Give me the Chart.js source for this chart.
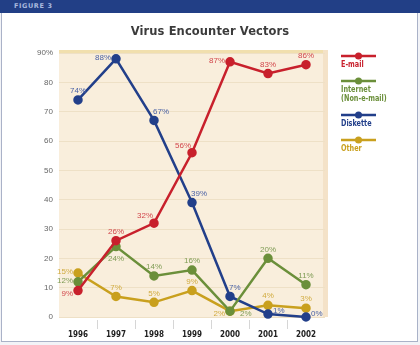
<!DOCTYPE html>
<html>
<head>
<meta charset="utf-8">
<script src="https://cdn.jsdelivr.net/npm/chart.js@4.4.1/dist/chart.umd.min.js"></script>
<style>
  html, body { margin: 0; padding: 0; background: #fff; }
  #wrap { position: relative; width: 420px; height: 345px; overflow: hidden; background: #f2f3f7; }
  #panel { position: absolute; left: 1px; top: 0; width: 415px; height: 341px; background: #fff;
           border: 1px solid #aab2c8; border-top: none; }
  #bar { position: absolute; left: 0; top: 0; width: 420px; height: 13px; background: #223f86; }
  #fig { position: absolute; left: 14px; top: 3px; font: bold 6.5px 'DejaVu Sans', sans-serif;
         letter-spacing: 0.6px; color: #a9b8de; line-height: 7px; }
  #title { position: absolute; left: 0; width: 420px; top: 23px; text-align: center;
           font: bold 11.5px 'DejaVu Sans', sans-serif; letter-spacing: 0.1px; color: #3b3b3b; line-height: 16px; }
  canvas { position: absolute; left: 0; top: 0; }
</style>
</head>
<body>
<div id="wrap">
  <div id="panel"></div>
  <div id="bar"></div>
  <div id="fig">FIGURE 3</div>
  <canvas id="c" width="420" height="345"></canvas>
  <div id="title">Virus Encounter Vectors</div>
</div>
<script>
// Survey years and share of respondents per infection route (%)
const years = ['1996', '1997', '1998', '1999', '2000', '2001', '2002'];
const email    = [9, 26, 32, 56, 87, 83, 86];
const internet = [12, 24, 14, 16, 2, 20, 11];
const diskette = [74, 88, 67, 39, 7, 1, 0];
const other    = [15, 7, 5, 9, 2, 4, 3];
const yMax = 90;
const yStep = 10;

const labelFont = "8px 'Liberation Sans', Arial, sans-serif";
const legendFont = "bold 9px 'DejaVu Sans Condensed', 'Liberation Sans', sans-serif";

// where each value label sits relative to its point
const PLACE = {
  'left':        { align: 'right',  dx: -5, dy: -1 },
  'left-low':    { align: 'right',  dx: -5, dy: 3 },
  'above':       { align: 'center', dx: 0,  dy: -9 },
  'above-left':  { align: 'right',  dx: -1, dy: -7 },
  'above-right': { align: 'left',   dx: -1, dy: -9 },
  'right':       { align: 'left',   dx: 5,  dy: -3 },
  'right-low':   { align: 'left',   dx: 10, dy: 3 },
  'below':       { align: 'center', dx: 0,  dy: 12 }
};

function series(label, lines, data, color, labelColor, places) {
  return {
    label, data,
    legendLines: lines,
    labelColor, labelPlaces: places,
    borderColor: color, backgroundColor: color,
    pointBackgroundColor: color, pointBorderColor: color,
    borderWidth: 2.5, pointRadius: 3.5, pointHoverRadius: 3.5,
    tension: 0, clip: false
  };
}

const datasets = [
  series('E-mail', ['E-mail'], email, '#c8202c', '#d2474c',
         ['left-low', 'above', 'above-left', 'above-left', 'left', 'above', 'above']),
  series('Internet (Non-e-mail)', ['Internet', '(Non-e-mail)'], internet, '#6b8f3a', '#7f9c55',
         ['left', 'below', 'above', 'above', 'right-low', 'above', 'above']),
  series('Diskette', ['Diskette'], diskette, '#223f8a', '#4a62a6',
         ['above', 'left', 'above-right', 'above-right', 'above-right', 'right', 'right']),
  series('Other', ['Other'], other, '#c9a01e', '#d1ab3f',
         ['left', 'above', 'above', 'above', 'left-low', 'above', 'above'])
];

// beige plotting field with its darker top and right edges
const fieldBg = {
  id: 'fieldBg',
  beforeDraw(chart) {
    const { ctx, chartArea: a } = chart;
    ctx.save();
    ctx.fillStyle = '#f9eedc';
    ctx.fillRect(a.left, a.top - 3, a.right - a.left + 3, a.bottom - a.top + 3);
    ctx.fillStyle = '#f1dfae';
    ctx.fillRect(a.left, a.top - 3, a.right - a.left + 3, 3);
    ctx.fillStyle = '#f4e2c8';
    ctx.fillRect(a.right - 2, a.top - 3, 5, a.bottom - a.top + 3);
    ctx.restore();
  }
};

// light separators between the year labels
const yearSeparators = {
  id: 'yearSeparators',
  afterDraw(chart) {
    const { ctx } = chart;
    const x = chart.scales.x;
    ctx.save();
    ctx.strokeStyle = '#d6d6d6';
    ctx.lineWidth = 1;
    for (let i = 1; i < years.length; i++) {
      const px = Math.round((x.getPixelForTick(i - 1) + x.getPixelForTick(i)) / 2) + 0.5;
      ctx.beginPath();
      ctx.moveTo(px, x.top + 3);
      ctx.lineTo(px, x.top + 12);
      ctx.stroke();
    }
    ctx.restore();
  }
};

// percentage labels next to every point
const valueLabels = {
  id: 'valueLabels',
  afterDatasetsDraw(chart) {
    const { ctx } = chart;
    ctx.save();
    ctx.font = labelFont;
    ctx.textBaseline = 'middle';
    chart.data.datasets.forEach((ds, di) => {
      const meta = chart.getDatasetMeta(di);
      meta.data.forEach((pt, i) => {
        const p = PLACE[ds.labelPlaces[i]];
        ctx.textAlign = p.align;
        ctx.fillStyle = ds.labelColor;
        ctx.fillText(ds.data[i] + '%', pt.x + p.dx, pt.y + p.dy);
      });
    });
    ctx.restore();
  }
};

// legend column to the right of the field, with narrow lettering
const sideLegend = {
  id: 'sideLegend',
  afterDraw(chart) {
    const { ctx } = chart;
    const x0 = chart.chartArea.right + 16;
    let y = 56;
    ctx.save();
    chart.data.datasets.forEach(ds => {
      ctx.strokeStyle = ds.borderColor;
      ctx.lineWidth = 2.5;
      ctx.beginPath();
      ctx.moveTo(x0, y);
      ctx.lineTo(x0 + 35, y);
      ctx.stroke();
      ctx.fillStyle = ds.borderColor;
      ctx.beginPath();
      ctx.arc(x0 + 17.5, y, 3.5, 0, Math.PI * 2);
      ctx.fill();
      ctx.font = legendFont;
      ctx.textAlign = 'left';
      ctx.textBaseline = 'middle';
      let ty = y + 8.5;
      ds.legendLines.forEach((line, li) => {
        if (li > 0) ty += 9;
        ctx.save();
        ctx.translate(x0, ty);
        ctx.scale(0.8, 1);
        ctx.fillText(line, 0, 0);
        ctx.restore();
      });
      y = ty + 16.5;
    });
    ctx.restore();
  }
};

new Chart(document.getElementById('c'), {
  type: 'line',
  data: { labels: years, datasets },
  options: {
    responsive: false,
    devicePixelRatio: 1,
    animation: false,
    events: [],
    layout: { padding: { left: 0, top: 53, right: 95, bottom: 0 } },
    plugins: { legend: { display: false }, title: { display: false }, tooltip: { enabled: false } },
    scales: {
      x: {
        offset: true,
        grid: { display: false },
        border: { display: false },
        ticks: { color: '#222', padding: 5, maxRotation: 0,
                 font: { family: "'DejaVu Sans Condensed', 'Liberation Sans', sans-serif", size: 8, weight: 'bold' } },
        afterFit(s) { s.height = 28; }
      },
      y: {
        min: 0, max: yMax,
        grid: { color: '#eee0c6', lineWidth: 1, drawTicks: false },
        border: { display: false },
        ticks: { stepSize: yStep, padding: 6, color: '#666',
                 font: { family: "'Liberation Sans', Arial, sans-serif", size: 8 },
                 callback: v => (v === yMax ? v + '%' : v) },
        afterFit(s) { s.width = 59; }
      }
    }
  },
  plugins: [fieldBg, yearSeparators, valueLabels, sideLegend]
});
</script>
</body>
</html>
